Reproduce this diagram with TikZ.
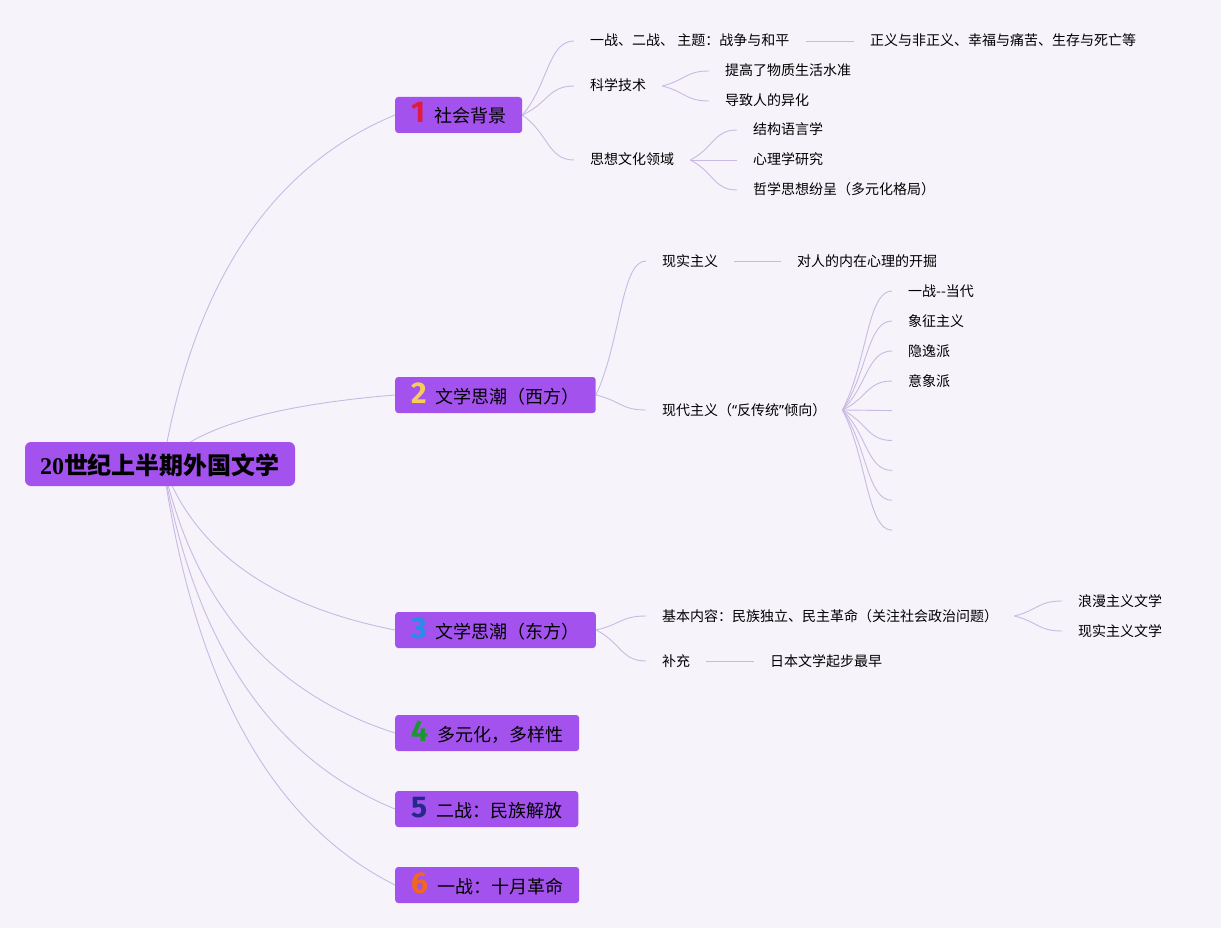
\documentclass[tikz,border=0pt]{standalone}
\usepackage{fontspec}
\setmainfont{Noto Sans CJK SC}
\newfontfamily\digitfont{Fira Sans}
\newfontfamily\yearfont{Liberation Serif}
\newfontfamily\quotefont{Noto Sans}
\usetikzlibrary{calc}
\pgfdeclarelayer{behind}
\pgfsetlayers{behind,main}
\definecolor{cbg}{RGB}{247,243,251}
\definecolor{cpurple}{RGB}{163,82,237}
\definecolor{clink}{RGB}{200,186,226}
\definecolor{cone}{RGB}{224,28,62}
\definecolor{ctwo}{RGB}{248,206,82}
\definecolor{cthree}{RGB}{38,142,232}
\definecolor{cfour}{RGB}{28,150,48}
\definecolor{cfive}{RGB}{38,40,138}
\definecolor{csix}{RGB}{242,102,32}
\tikzset{mmap/.style={x=1pt,y=-1pt}}
\tikzset{topic/.style={fill=cpurple,rounded corners=6pt,minimum width=270pt,minimum height=44pt,
                       text height=20pt,text depth=0pt,font=\fontsize{24pt}{26pt}\selectfont\bfseries},
         branch/.style={anchor=west,fill=cpurple,rounded corners=3pt,inner xsep=16pt,inner ysep=5pt,
                        text height=21pt,text depth=5pt,font=\fontsize{18pt}{20pt}\selectfont},
         leaf/.style={anchor=west,inner xsep=16pt,inner ysep=2pt,text height=10pt,text depth=0pt,
                      font=\fontsize{14pt}{16pt}\selectfont},
         link/.style={clink,line width=0.9pt}}
\tikzset{trunk/.style={to path={let \p1=(\tikztostart),\p2=(\tikztotarget) in
            .. controls ($(\p1)+({0.133*(\x2-\x1)},{0.52*(\y2-\y1)})$)
            and ($(\p2)-({0.533*(\x2-\x1)},{0.147*(\y2-\y1)})$) .. (\p2)}},
         fork/.style={to path={let \p1=(\tikztostart),\p2=(\tikztotarget) in
            .. controls ($(\p1)+({0.5*(\x2-\x1)},{0.4*(\y2-\y1)})$)
            and ($(\p2)-({0.5*(\x2-\x1)},0)$) .. (\p2)}}}
\newcommand{\bnum}[2]{{\digitfont\bfseries\fontsize{30pt}{30pt}\selectfont\color{#1}#2}\hspace{9pt}}
\newcommand{\oq}{{\quotefont “}}
\newcommand{\cq}{{\quotefont ”}}

\begin{document}
\begin{tikzpicture}[mmap]
  \useasboundingbox (0,0) rectangle (1221,928);
  \node[topic] (root) at (160,464) {{\yearfont 20}世纪上半期外国文学};
  \coordinate (hub) at (163,464);
  \node[branch] (b1) at (395,115) {\bnum{cone}{1}社会背景};
  \node[branch] (b2) at (395,395) {\bnum{ctwo}{2}文学思潮（西方）};
  \node[branch] (b3) at (395,630) {\bnum{cthree}{3}文学思潮（东方）};
  \node[branch] (b4) at (395,733) {\bnum{cfour}{4}多元化，多样性};
  \node[branch] (b5) at (395,809) {\bnum{cfive}{5}二战：民族解放};
  \node[branch] (b6) at (395,885) {\bnum{csix}{6}一战：十月革命};
  % social background
  \node[leaf] (s1) at (574,41) {一战、二战、 主题：战争与和平};
  \node[leaf] (s11) at (854,41) {正义与非正义、幸福与痛苦、生存与死亡等};
  \node[leaf] (s2) at (574,86) {科学技术};
  \node[leaf] (s21) at (709,71) {提高了物质生活水准};
  \node[leaf] (s22) at (709,101) {导致人的异化};
  \node[leaf] (s3) at (574,160) {思想文化领域};
  \node[leaf] (s31) at (737,130) {结构语言学};
  \node[leaf] (s32) at (737,160) {心理学研究};
  \node[leaf] (s33) at (737,190) {哲学思想纷呈（多元化格局）};
  % west
  \node[leaf] (w1) at (646,261) {现实主义};
  \node[leaf] (w11) at (781,261) {对人的内在心理的开掘};
  \node[leaf] (w2) at (646,410) {现代主义（\oq 反传统\cq 倾向）};
  \node[leaf] (m1) at (892,291) {一战-{}-当代};
  \node[leaf] (m2) at (892,321) {象征主义};
  \node[leaf] (m3) at (892,351) {隐逸派};
  \node[leaf] (m4) at (892,381) {意象派};
  \foreach \i in {5,...,9}
    \node[leaf] (m\i) at (892,{291+29.9*(\i-1)}) {};
  % east
  \node[leaf] (e1) at (646,616) {基本内容：民族独立、民主革命（关注社会政治问题）};
  \node[leaf] (e11) at (1062,601) {浪漫主义文学};
  \node[leaf] (e12) at (1062,631) {现实主义文学};
  \node[leaf] (e2) at (646,661) {补充};
  \node[leaf] (e21) at (754,661) {日本文学起步最早};

  \begin{pgfonlayer}{behind}
    \fill[cbg] (0,0) rectangle (1221,928);
    \foreach \i in {1,...,6}
      \draw[link] (hub) to[trunk] (b\i.west);
    \foreach \i in {1,2,3}
      \draw[link] (b1.east) to[fork] (s\i.west);
    \draw[link] (s1.east) -- (s11.west);
    \draw[link] (s2.east) to[fork] (s21.west);
    \draw[link] (s2.east) to[fork] (s22.west);
    \foreach \i in {1,2,3}
      \draw[link] (s3.east) to[fork] (s3\i.west);
    \draw[link] (b2.east) to[fork] (w1.west);
    \draw[link] (b2.east) to[fork] (w2.west);
    \draw[link] (w1.east) -- (w11.west);
    \foreach \i in {1,...,9}
      \draw[link] (w2.east) to[fork] (m\i.west);
    \draw[link] (b3.east) to[fork] (e1.west);
    \draw[link] (b3.east) to[fork] (e2.west);
    \draw[link] (e1.east) to[fork] (e11.west);
    \draw[link] (e1.east) to[fork] (e12.west);
    \draw[link] (e2.east) -- (e21.west);
  \end{pgfonlayer}
\end{tikzpicture}
\end{document}
